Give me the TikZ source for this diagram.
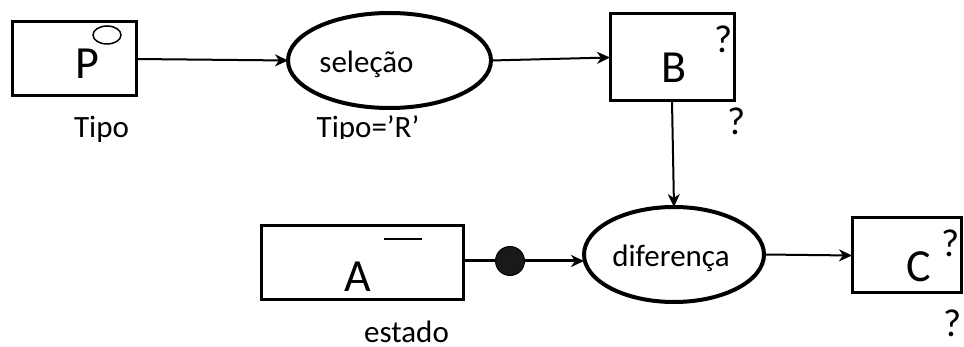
\documentclass[tikz,border=0pt]{standalone}
\usepackage{fontspec}
\setmainfont{Carlito}
\usetikzlibrary{shapes.geometric,arrows.meta}
\tikzset{
  boxnode/.style={draw, rectangle, line width=3pt, inner sep=0pt, outer sep=0pt},
  ovalnode/.style={draw, ellipse, line width=4pt, inner sep=0pt, outer sep=0pt},
  conn/.style={line width=2pt, -{Stealth[length=13pt,width=12pt,inset=4pt]}},
  lbl/.style={anchor=base, inner sep=0pt, font=\fontsize{31}{31}\selectfont},
  big/.style={anchor=base, inner sep=0pt, font=\fontsize{46}{46}\selectfont},
  qm/.style={anchor=base, inner sep=0pt, font=\fontsize{39}{39}\selectfont},
}
\begin{document}
\begin{tikzpicture}[x=1pt,y=-1pt]
\useasboundingbox (0,0) rectangle (964,347);
% boxes
\node[boxnode, minimum width=124pt, minimum height=74pt] (P) at (74,59) {};
\node[boxnode, minimum width=124pt, minimum height=87pt] (B) at (672,57.5) {};
\node[boxnode, minimum width=202pt, minimum height=74pt] (A) at (362,263) {};
\node[boxnode, minimum width=109pt, minimum height=75pt] (C) at (906.5,255.5) {};
% ellipses
\node[ovalnode, minimum width=203pt, minimum height=95pt] (sel) at (389.5,60.5) {};
\node[ovalnode, minimum width=180pt, minimum height=95pt] (dif) at (674,254.5) {};
\node[draw, ellipse, line width=1.5pt, inner sep=0pt, minimum width=28pt, minimum height=18pt] (ring) at (107,35) {};
\node[circle, fill=black!90, draw=black, line width=1pt, inner sep=0pt, minimum size=29pt] (dot) at (510,261) {};
% bar over A
\coordinate (barL) at (384,239);
\coordinate (barR) at (422,239);
\draw[line width=2pt] (barL) -- (barR);
% letters
\node[big] (Pl) at (87.5,79) {P};
\node[big] (Bl) at (674.5,83) {B};
\node[big] (Al) at (358,292) {A};
\node[big] (Cl) at (918.5,282) {C};
% question marks
\node[qm] (q1) at (723.5,53) {?};
\node[qm] (q2) at (736.5,135) {?};
\node[qm] (q3) at (951,257) {?};
\node[qm] (q4) at (952.5,337) {?};
% labels
\node[lbl] (tipo) at (101.5,138) {Tipo};
\node[lbl] (selt) at (366.5,73) {seleção};
\begin{scope}
\clip (250,100) rectangle (500,138.5);
\node[lbl] (tipoR) at (368,138) {Tipo=’R’};
\end{scope}
\node[lbl] (dift) at (671,267) {diferença};
\node[lbl] (est) at (406.5,343) {estado};
% connectors
\draw[conn] (P.east) -- (sel.west);
\draw[conn] (sel.east) -- (B.west);
\draw[conn] (B.south) -- (dif.north);
\draw[line width=3pt] (A.east |- dot) -- (dot.west);
\draw[conn, line width=3pt] (dot.east) -- (dif.west |- dot);
\draw[conn] (dif.east) -- (C.west);
\end{tikzpicture}
\end{document}
